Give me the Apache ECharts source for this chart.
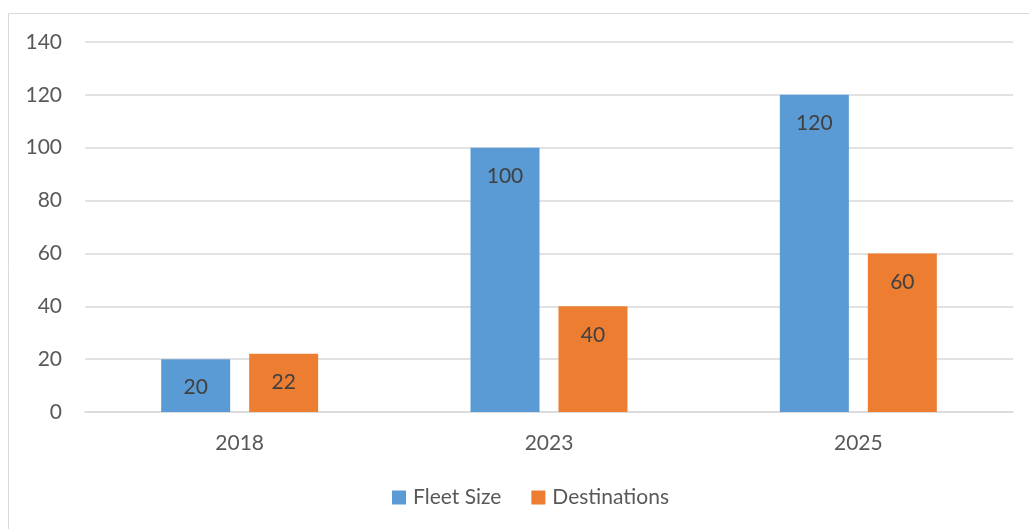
<!DOCTYPE html>
<html>
<head>
<meta charset="utf-8">
<script src="https://cdn.jsdelivr.net/npm/echarts@6/dist/echarts.min.js"></script>
<style>
  html, body { margin: 0; padding: 0; background: #fff; }
  #chart { width: 1029px; height: 529px; }
</style>
</head>
<body>
<div id="chart"></div>
<script>
// 数据
const years = ['2018', '2023', '2025'];
const fleetSize = [20, 100, 120];
const destinations = [22, 40, 60];

const dom = document.getElementById('chart');
const chart = echarts.init(dom);

const font = 'Lato, "Open Sans", sans-serif';
const labelStyle = {
    show: true,
    position: 'insideTop',
    distance: 18,
    fontSize: 21,
    color: '#404040',
    fontFamily: font
};

const option = {
    animation: false,
    textStyle: { fontFamily: font },
    graphic: [{
        type: 'rect',
        shape: { x: 8.5, y: 13.5, width: 1040, height: 540 },
        style: { fill: 'none', stroke: '#d9d9d9', lineWidth: 1 }
    }],
    legend: {
        bottom: 16,
        left: 387,
        itemWidth: 14,
        itemHeight: 14,
        itemGap: 30,
        icon: 'rect',
        textStyle: { fontSize: 21, color: '#595959', fontFamily: font, padding: [0, 0, 0, 2] },
        data: ['Fleet Size', 'Destinations']
    },
    grid: { left: 85, right: 16, top: 42, bottom: 117, containLabel: false },
    xAxis: {
        type: 'category',
        data: years,
        axisLine: { lineStyle: { color: '#d9d9d9', width: 1.5 } },
        axisTick: { show: false },
        axisLabel: { fontSize: 21, color: '#595959', margin: 21, fontFamily: font }
    },
    yAxis: {
        type: 'value',
        min: 0,
        max: 140,
        interval: 20,
        axisLine: { show: false },
        axisTick: { show: false },
        splitLine: { lineStyle: { color: '#d9d9d9', width: 1.5 } },
        axisLabel: { fontSize: 21, color: '#595959', margin: 23, fontFamily: font }
    },
    series: [
        {
            name: 'Fleet Size',
            type: 'bar',
            data: fleetSize,
            barWidth: 69,
            barGap: '27.5%',
            itemStyle: { color: '#5B9BD5' },
            label: labelStyle
        },
        {
            name: 'Destinations',
            type: 'bar',
            data: destinations,
            barWidth: 69,
            itemStyle: { color: '#ED7D31' },
            label: labelStyle
        }
    ]
};

chart.setOption(option);
</script>
</body>
</html>
